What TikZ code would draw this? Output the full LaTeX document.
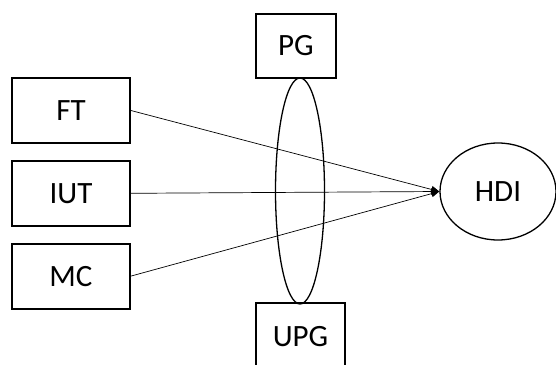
\documentclass[tikz,border=0pt]{standalone}
\usepackage{fontspec}
\setmainfont{Carlito}
\usetikzlibrary{arrows.meta,positioning,shapes.geometric}

\begin{document}
\begin{tikzpicture}[x=1pt,y=-1pt,>={Triangle[length=8pt,width=7pt]},node distance=16pt,font=\fontsize{31}{36}\selectfont]
\tikzstyle{factor}=[draw,line width=1.8pt,minimum width=118pt,minimum height=65pt,inner sep=0pt]
\tikzstyle{link}=[->,line width=0.7pt]

\useasboundingbox (0,0) rectangle (556,364);

\node[factor] (FT) at (71,110.5) {FT};
\node[factor] (IUT) [below=of FT] {IUT};
\node[factor] (MC) [below=of IUT] {MC};

\node[factor,minimum width=80pt,minimum height=64pt] (PG) at (296,46) {PG};
\node[factor,minimum width=89pt,minimum height=68pt] (UPG) at (300.5,337) {UPG};

% moderator oval between PG and UPG
\node[ellipse,draw,line width=1.3pt,minimum width=49pt,minimum height=226pt,inner sep=0pt] (mod) at (300,191) {};

\node[ellipse,draw,line width=1.3pt,minimum width=116pt,minimum height=97pt,inner sep=0pt] (HDI) at (498,191.5) {HDI};

\path
(FT.east) edge[link] (HDI.west)
(IUT.east) edge[link] (HDI.west)
(MC.east) edge[link] (HDI.west);
\end{tikzpicture}
\end{document}
